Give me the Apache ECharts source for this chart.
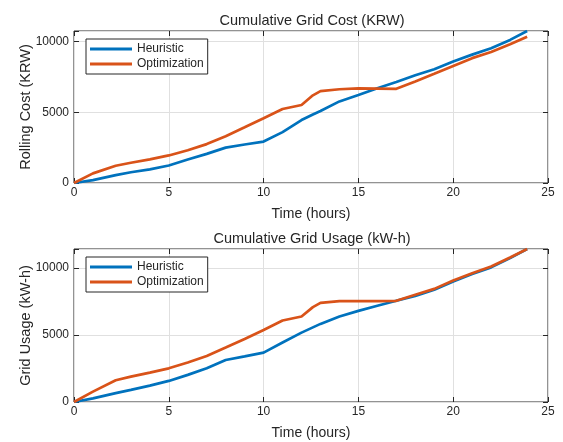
<!DOCTYPE html>
<html>
<head>
<meta charset="utf-8">
<script src="https://cdn.jsdelivr.net/npm/echarts@6/dist/echarts.min.js"></script>
<style>
  html, body { margin: 0; padding: 0; background: #fff; }
  #main { width: 563px; height: 442px; }
</style>
</head>
<body>
<div id="main"></div>
<script>
const hours = [0, 1, 2.2, 3, 4, 5, 6, 7, 8, 9, 10, 11, 12, 12.6, 13, 14, 15, 16, 17, 18, 19, 20, 21, 22, 23, 23.9]

// cumulative grid cost (KRW)
const costHeuristic = [0, 200, 560, 760, 960, 1240, 1660, 2060, 2500, 2720, 2930, 3600, 4450, 4850, 5090, 5770, 6220, 6700, 7140, 7620, 8050, 8590, 9080, 9530, 10120, 10750]
const costOptimization = [0, 680, 1220, 1430, 1670, 1950, 2320, 2750, 3310, 3940, 4580, 5230, 5520, 6200, 6500, 6630, 6690, 6680, 6660, 7180, 7720, 8280, 8830, 9270, 9810, 10350]

// cumulative grid usage (kW-h)
const usageHeuristic = [0, 270, 660, 900, 1220, 1570, 2020, 2510, 3130, 3400, 3680, 4430, 5170, 5560, 5820, 6370, 6790, 7170, 7540, 7910, 8360, 8980, 9530, 10030, 10720, 11400]
const usageOptimization = [0, 770, 1620, 1890, 2190, 2510, 2940, 3430, 4060, 4700, 5370, 6070, 6370, 7070, 7390, 7510, 7510, 7510, 7540, 7990, 8430, 9060, 9600, 10100, 10770, 11400]

const xTicks = [0, 5, 10, 15, 20, 25]
const costMax = 10750
const usageMax = 11400

const blue = '#0072BD'
const orange = '#D95319'
const textColor = '#262626'
const font = 'Liberation Sans'

const pairs = (xs, ys) => xs.map((x, i) => [x, ys[i]])

const myChart = echarts.init(document.getElementById('main'), null, { renderer: 'canvas' })

const grids = [
  { left: 74, right: 15, top: 31, height: 152 },
  { left: 74, right: 15, top: 249, height: 153 }
]

function xAxisFor(gridIndex, position) {
  const main = position === 'bottom'
  return {
    type: 'value', gridIndex, position,
    min: xTicks[0], max: xTicks[xTicks.length - 1], interval: 5,
    name: main ? 'Time (hours)' : '',
    nameLocation: 'middle', nameGap: 24, nameMoveOverlap: false,
    nameTextStyle: { color: textColor, fontFamily: font, fontSize: 14 },
    axisLine: { show: false, onZero: false },
    axisTick: { show: true, inside: true, length: 5, lineStyle: { color: textColor } },
    axisLabel: { show: main, color: textColor, fontFamily: font, fontSize: 12, margin: 4 },
    splitLine: { show: main, lineStyle: { color: '#e0e0e0', width: 1 } }
  }
}

function yAxisFor(gridIndex, position, max, name) {
  const main = position === 'left'
  return {
    type: 'value', gridIndex, position,
    min: 0, max, interval: 5000,
    name: main ? name : '',
    nameLocation: 'middle', nameGap: 41, nameMoveOverlap: false,
    nameTextStyle: { color: textColor, fontFamily: font, fontSize: 14.5 },
    axisLine: { show: false, onZero: false },
    axisTick: { show: true, inside: true, length: 5, lineStyle: { color: textColor } },
    axisLabel: {
      show: main, color: textColor, fontFamily: font, fontSize: 12, margin: 5,
      formatter: v => (v % 5000 === 0 ? String(v) : '')
    },
    splitLine: { show: main, lineStyle: { color: '#e0e0e0', width: 1 } }
  }
}

function lineSeries(name, color, data, idx) {
  return {
    name, type: 'line', data, xAxisIndex: idx, yAxisIndex: idx,
    symbol: 'none', smooth: false, animation: false,
    lineStyle: { color, width: 2.7 },
    itemStyle: { color }
  }
}

function legendFor(top) {
  return {
    left: 86, top, orient: 'vertical',
    data: ['Heuristic', 'Optimization'],
    icon: 'rect', itemWidth: 42, itemHeight: 3, itemGap: 1,
    backgroundColor: '#fff', borderColor: '#262626', borderWidth: 1,
    padding: [3, 4, 3, 4], selectedMode: false,
    textStyle: { color: textColor, fontFamily: font, fontSize: 12, lineHeight: 14 }
  }
}

myChart.setOption({
  animation: false,
  backgroundColor: '#fff',
  title: [
    { text: 'Cumulative Grid Cost (KRW)', left: 307, top: 8, textAlign: 'center',
      textStyle: { color: textColor, fontFamily: font, fontSize: 14.5, fontWeight: 'normal' } },
    { text: 'Cumulative Grid Usage (kW-h)', left: 307, top: 226, textAlign: 'center',
      textStyle: { color: textColor, fontFamily: font, fontSize: 14.5, fontWeight: 'normal' } }
  ],
  grid: grids.map(g => Object.assign({ show: true, borderColor: textColor, borderWidth: 1, backgroundColor: 'transparent' }, g)),
  legend: [legendFor(39), legendFor(257)],
  xAxis: [xAxisFor(0, 'bottom'), xAxisFor(1, 'bottom'), xAxisFor(0, 'top'), xAxisFor(1, 'top')],
  yAxis: [
    yAxisFor(0, 'left', costMax, 'Rolling Cost (KRW)'),
    yAxisFor(1, 'left', usageMax, 'Grid Usage (kW-h)'),
    yAxisFor(0, 'right', costMax, ''),
    yAxisFor(1, 'right', usageMax, '')
  ],
  series: [
    lineSeries('Heuristic', blue, pairs(hours, costHeuristic), 0),
    lineSeries('Optimization', orange, pairs(hours, costOptimization), 0),
    lineSeries('Heuristic', blue, pairs(hours, usageHeuristic), 1),
    lineSeries('Optimization', orange, pairs(hours, usageOptimization), 1)
  ]
})
</script>
</body>
</html>
